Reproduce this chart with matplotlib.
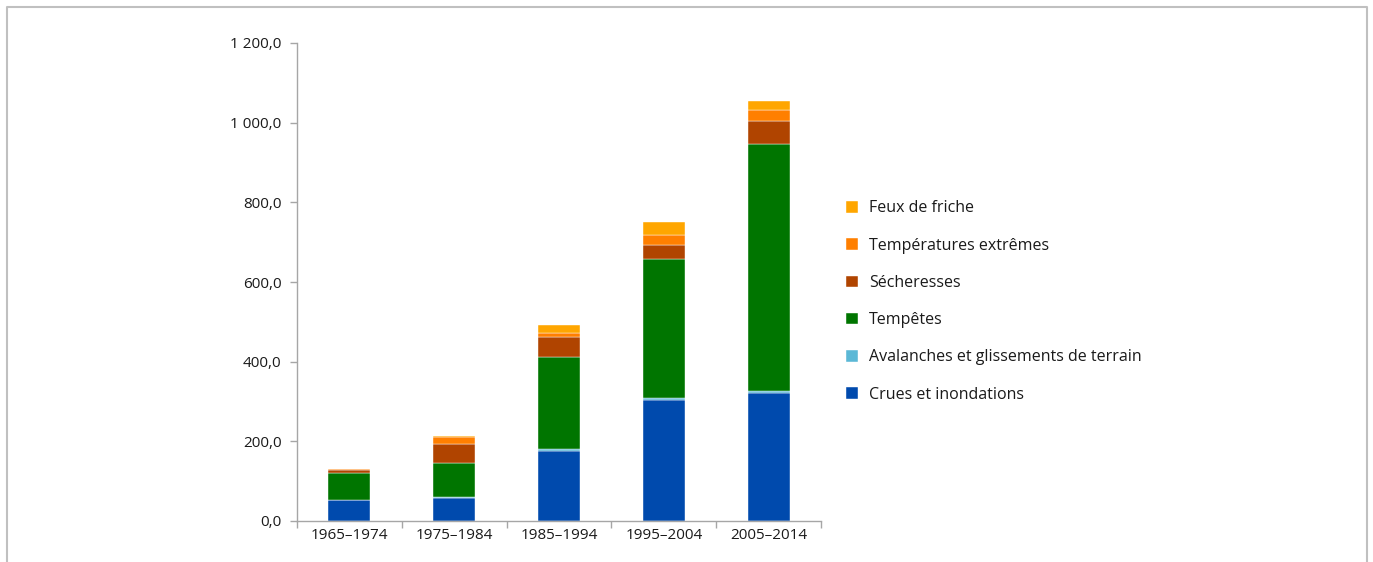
import numpy as np
import matplotlib
matplotlib.use("Agg")
import matplotlib.pyplot as plt
from matplotlib.ticker import FuncFormatter, FixedLocator, NullFormatter

plt.rcParams['font.family'] = ['Open Sans', 'DejaVu Sans']

periods = ['1965–1974', '1975–1984', '1985–1994', '1995–2004', '2005–2014']
crues = [52, 57, 175, 304, 322]
avalanches = [1, 3.5, 5, 5, 3.5]
tempetes = [67, 84, 231, 349, 620]
secheresses = [8.5, 48, 51, 36, 59]
temperatures = [2.5, 18.5, 10, 25, 27]
feux = [0.5, 3.3, 20, 31, 23]

series = [
    ("Crues et inondations", crues, '#004aad'),
    ("Avalanches et glissements de terrain", avalanches, '#5bb8d6'),
    ("Tempêtes", tempetes, '#007500'),
    ("Sécheresses", secheresses, '#b04400'),
    ("Températures extrêmes", temperatures, '#ff7f00'),
    ("Feux de friche", feux, '#ffa600'),
]

fig = plt.figure(figsize=(13.73, 5.62), dpi=100)
ax = fig.add_axes([297 / 1373, 41 / 562, 524 / 1373, 478 / 562])

x = np.arange(len(periods))
bottom = np.zeros(len(periods))
handles = []
for name, vals, col in series:
    b = ax.bar(x, vals, width=0.4, bottom=bottom, color=col, label=name,
               edgecolor='white', linewidth=0.3)
    handles.append(b)
    bottom += np.array(vals)

grey = '#a6a6a6'
ax.set_xlim(-0.5, len(periods) - 0.5)
ax.set_ylim(0, 1200)
ax.set_yticks(np.arange(0, 1201, 200))
ax.yaxis.set_major_formatter(FuncFormatter(lambda v, p: f"{v:,.1f}".replace(',', ' ').replace('.', ',')))

ax.xaxis.set_major_locator(FixedLocator(np.arange(-0.5, len(periods), 1.0)))
ax.xaxis.set_major_formatter(NullFormatter())
ax.xaxis.set_minor_locator(FixedLocator(x))
ax.set_xticklabels(periods, minor=True)
ax.tick_params(axis='x', which='minor', length=0, pad=5, labelsize=11, labelcolor='#1a1a1a')
ax.tick_params(axis='x', which='major', length=5, color=grey, width=1)
ax.tick_params(axis='y', length=5, color=grey, width=1, labelsize=11, labelcolor='#1a1a1a', pad=6)

for s in ['top', 'right']:
    ax.spines[s].set_visible(False)
for s in ['left', 'bottom']:
    ax.spines[s].set_color(grey)
    ax.spines[s].set_linewidth(1)

fig.legend(handles[::-1], [s[0] for s in series][::-1],
           loc='upper left', bbox_to_anchor=(846 / 1373, 1 - 200.5 / 562),
           frameon=False, fontsize=11.5, handlelength=0.72, handleheight=0.72,
           handletextpad=0.72, labelspacing=1.33, borderpad=0, borderaxespad=0,
           labelcolor='#1a1a1a')

# grey frame around the figure (open at the bottom)
fx0, fx1, fy = 7 / 1373, 1366.5 / 1373, 1 - 7 / 562
fig.add_artist(plt.Line2D([fx0, fx0, fx1, fx1], [0, fy, fy, 0], color='#c0c0c0', lw=1.5,
                          transform=fig.transFigure))

fig.savefig('out.png', dpi=100)
